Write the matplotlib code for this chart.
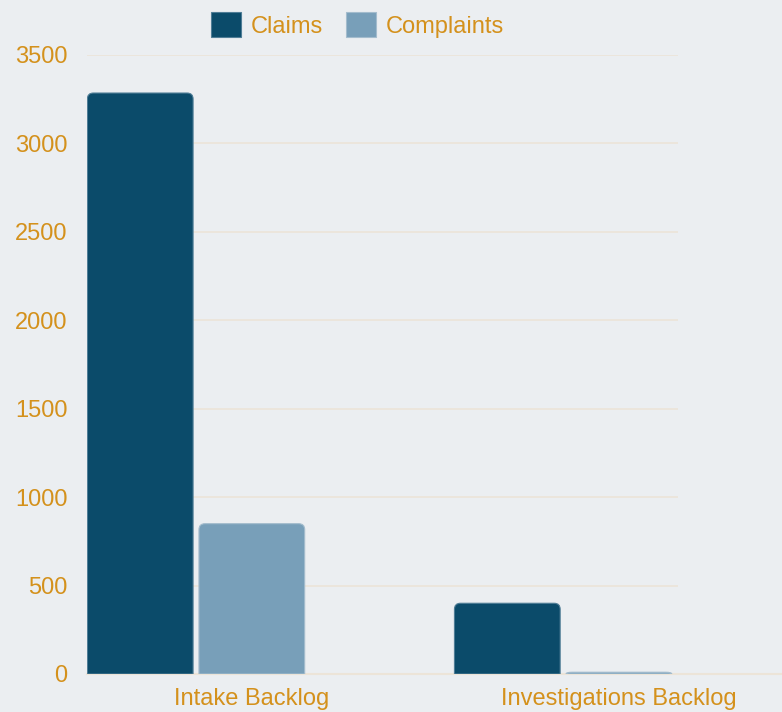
import matplotlib
matplotlib.use("Agg")
import matplotlib.pyplot as plt
from matplotlib.path import Path
from matplotlib.patches import PathPatch, Patch
import numpy as np

plt.rcParams['font.family'] = ['Liberation Sans', 'DejaVu Sans']

categories = ["Intake Backlog", "Investigations Backlog"]
series_names = ["Claims", "Complaints"]
claims = [3285, 400]
complaints = [850, 10]
yticks = [0, 500, 1000, 1500, 2000, 2500, 3000, 3500]

c_claims = "#0b4b6a"
c_compl = "#789fb9"
bg = "#ebeef1"
txt = "#d4911c"
grid_c = "#ece4d8"

W, H = 782, 712
fig = plt.figure(figsize=(W / 100, H / 100), dpi=100, facecolor=bg)
ax = fig.add_axes([87 / W, (H - 674) / H, (678 - 87) / W, (674 - 55) / H])
ax.set_facecolor(bg)

x = np.arange(len(categories))
bw = 0.288
off = 0.152
b1 = ax.bar(x - off, claims, bw, color=c_claims, label=series_names[0], zorder=3)
b2 = ax.bar(x + off, complaints, bw, color=c_compl, label=series_names[1], zorder=3)

ax.set_xlim(-0.297, 1.313)
ax.set_ylim(0, 3500)

# rounded top corners
fig.canvas.draw()
inv = ax.transData.inverted()
p0 = inv.transform((0, 0))
p1 = inv.transform((1, 1))
dx, dy = p1[0] - p0[0], p1[1] - p0[1]
r = 6
for bars, col, edge in [(b1, c_claims, "#4f7d96"), (b2, c_compl, "#a3bccd")]:
    for rect in bars:
        x0, y0 = rect.get_x(), rect.get_y()
        w, h = rect.get_width(), rect.get_height()
        rx = r * dx
        ry = min(r * dy, h)
        verts = [(x0, y0), (x0, y0 + h - ry), (x0, y0 + h), (x0 + rx, y0 + h),
                 (x0 + w - rx, y0 + h), (x0 + w, y0 + h), (x0 + w, y0 + h - ry),
                 (x0 + w, y0), (x0, y0)]
        codes = [Path.MOVETO, Path.LINETO, Path.CURVE3, Path.CURVE3,
                 Path.LINETO, Path.CURVE3, Path.CURVE3, Path.LINETO, Path.CLOSEPOLY]
        rect.set_visible(False)
        ax.add_patch(PathPatch(Path(verts, codes), facecolor=col, edgecolor=edge,
                               linewidth=0.8, zorder=3))

ax.set_yticks(yticks)
ax.set_yticklabels([str(v) for v in yticks])
ax.set_xticks(x + off)
ax.set_xticklabels(categories)
ax.tick_params(axis='y', length=0, pad=14, labelsize=17, labelcolor=txt)
ax.tick_params(axis='x', length=0, pad=10, labelsize=17, labelcolor=txt)
ax.grid(axis='y', color=grid_c, linewidth=1.2, zorder=0)
ax.set_axisbelow(True)
for s in ax.spines.values():
    s.set_visible(False)
ax.axhline(0, xmin=0, xmax=(W - 87) / (678 - 87), color=grid_c, linewidth=1.5,
           clip_on=False, zorder=1)

handles = [Patch(facecolor=c_claims, edgecolor="#4f7d96", linewidth=0.8),
           Patch(facecolor=c_compl, edgecolor="#a3bccd", linewidth=0.8)]
leg = fig.legend(handles=handles, labels=series_names, loc='center',
                 bbox_to_anchor=(357.5 / W, 1 - 25 / H), ncol=2, frameon=False,
                 fontsize=17, handlelength=1.27, handleheight=1.27,
                 handletextpad=0.4, columnspacing=1.0, borderpad=0)
for t in leg.get_texts():
    t.set_color(txt)

fig.savefig("out.png", dpi=100, facecolor=bg)
